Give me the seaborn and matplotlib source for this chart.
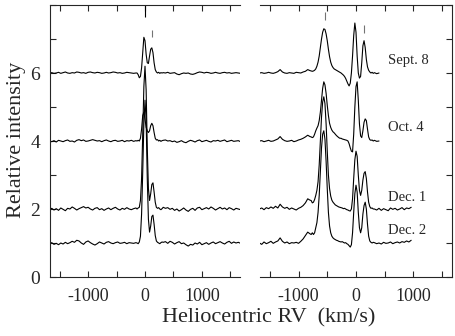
import numpy as np
import pandas as pd
import matplotlib
matplotlib.use("Agg")
import matplotlib.pyplot as plt
import seaborn as sns

sns.set_style("ticks")
plt.rcParams["font.family"] = ["Liberation Serif", "DejaVu Serif"]
plt.rcParams["axes.unicode_minus"] = False

dates = ["Sept. 8", "Oct. 4", "Dec. 1", "Dec. 2"]
offsets = [6, 4, 2, 1]

# velocity sampling (km/s): coarse in the wings, finer around the lines
vel_left = np.concatenate([np.arange(-1680, -159, 40), np.arange(-140, 301, 20),
                           np.arange(320, 1681, 40)])
vel_right_short = np.concatenate([np.arange(-1680, -799, 40), np.arange(-780, 301, 20),
                                  np.arange(320, 401, 40)])
vel_right_long = np.concatenate([np.arange(-1680, -799, 40), np.arange(-780, 301, 20),
                                 np.arange(320, 961, 40)])

# ---- left panel, intensity above continuum ----
left_sept8 = (
    [0.0, 0.01, -0.01, 0.0, 0.02, -0.01, 0.01, 0.03, 0.0, -0.01,
     0.01, 0.0, 0.03, 0.02, 0.0, 0.01, -0.01, 0.02, 0.03, 0.01,
     0.0, 0.02, 0.01, -0.01, 0.0, 0.02, 0.0, 0.01, 0.03, 0.02,
     0.0, 0.01, -0.01, 0.0, 0.02, 0.01, 0.0, -0.01, 0.0]
    + [0.0, -0.05, -0.14, -0.10, 0.15, 0.6, 1.05, 0.95, 0.55, 0.3,
       0.28, 0.5, 0.7, 0.74, 0.6, 0.3, 0.1, 0.03, 0.0, 0.02,
       -0.01, 0.01, 0.0]
    + [0.01, 0.0, 0.02, -0.01, 0.0, 0.01, -0.03, -0.05, -0.02, 0.0,
       -0.01, 0.0, -0.03, -0.04, -0.02, 0.01, 0.03, 0.02, 0.0, 0.02,
       0.01, -0.01, 0.0, 0.02, 0.0, -0.01, 0.01, 0.02, 0.0, 0.01,
       -0.01, 0.0, 0.01, 0.0, -0.01]
)
left_oct4 = (
    [0.0, -0.02, 0.01, -0.03, 0.02, 0.0, -0.02, 0.01, 0.03, -0.01,
     0.0, -0.03, 0.02, 0.04, 0.01, 0.03, -0.01, 0.0, 0.02, 0.04,
     0.02, 0.0, 0.01, -0.02, 0.01, 0.03, 0.0, -0.02, 0.01, 0.02,
     -0.01, 0.0, 0.02, -0.02, 0.01, 0.0, 0.02, -0.01, 0.01]
    + [0.0, 0.02, 0.0, 0.08, 0.35, 0.75, 0.85, 0.65, 0.4, 0.3,
       0.25, 0.3, 0.45, 0.52, 0.45, 0.25, 0.08, 0.03, 0.04, 0.0,
       0.02, -0.01, 0.01]
    + [0.02, 0.03, 0.0, 0.01, -0.02, 0.0, -0.04, -0.02, 0.01, -0.03,
       -0.05, -0.01, 0.02, 0.0, -0.03, 0.01, 0.03, -0.02, 0.0, 0.02,
       -0.01, -0.03, 0.01, 0.0, 0.02, -0.01, 0.01, 0.03, -0.02, 0.0,
       0.02, -0.01, 0.0, 0.01, -0.02]
)
left_dec1 = (
    [-0.02, 0.02, -0.03, 0.01, -0.04, 0.03, -0.01, -0.05, 0.02, 0.0,
     0.06, 0.02, -0.03, 0.01, 0.04, 0.07, 0.03, 0.05, 0.0, -0.03,
     0.02, 0.04, -0.02, 0.01, -0.04, 0.0, 0.03, -0.02, 0.02, 0.05,
     0.0, -0.03, 0.02, -0.01, 0.04, 0.0, -0.02, 0.01, 0.03]
    + [0.0, 0.03, 0.05, 0.25, 0.9, 2.2, 3.6, 4.2, 3.5, 1.8,
       0.6, 0.25, 0.45, 0.72, 0.77, 0.5, 0.2, 0.05, 0.02, 0.04,
       0.0, -0.02, 0.01]
    + [0.05, 0.02, 0.04, -0.01, 0.02, -0.04, 0.0, -0.06, -0.02, 0.03,
       -0.03, -0.07, -0.01, 0.02, -0.04, 0.03, 0.05, -0.02, 0.01, 0.04,
       0.0, 0.06, 0.02, -0.03, 0.01, 0.05, 0.0, 0.03, -0.02, 0.04,
       0.01, -0.03, 0.02, 0.0, -0.02]
)
left_dec2 = (
    [-0.02, 0.01, -0.04, -0.01, -0.05, 0.0, -0.03, 0.02, -0.02, 0.01,
     0.05, 0.02, 0.08, 0.06, 0.0, -0.04, 0.03, 0.06, 0.01, -0.03,
     -0.06, -0.02, 0.03, 0.0, -0.03, 0.02, 0.04, 0.0, -0.02, 0.01,
     0.03, -0.01, 0.0, 0.02, -0.02, 0.01, 0.0, -0.01, 0.01]
    + [0.0, -0.02, 0.03, 0.2, 0.85, 2.1, 3.5, 4.2, 3.6, 1.9,
       0.7, 0.32, 0.5, 0.78, 0.82, 0.55, 0.22, 0.06, 0.02, 0.0,
       -0.02, 0.01, 0.03]
    + [0.02, 0.04, -0.01, 0.05, 0.02, -0.03, 0.01, 0.04, -0.02, 0.0,
       -0.05, -0.09, -0.04, -0.06, 0.0, -0.03, 0.02, -0.05, -0.02, 0.01,
       -0.04, 0.0, 0.03, -0.02, 0.01, 0.04, 0.0, -0.03, 0.02, 0.05,
       -0.01, 0.03, 0.0, 0.02, -0.01]
)

# ---- right panel ----
right_sept8 = (
    [0.0, 0.01, -0.01, 0.0, 0.02, 0.0, -0.01, 0.01, 0.04, 0.1,
     0.03, 0.0, -0.01, 0.01, 0.0, -0.01, 0.02, 0.01, 0.0, 0.03,
     0.05, 0.1, 0.07]
    + [0.06, 0.05, 0.06, 0.08, 0.12, 0.2, 0.32, 0.5, 0.75, 1.0,
       1.2, 1.3, 1.28, 1.15, 0.95, 0.7, 0.48, 0.32, 0.22, 0.16,
       0.12, 0.1, 0.08, 0.06, 0.04, 0.02, 0.0, -0.03, -0.06, -0.1,
       -0.16, -0.24, -0.32, -0.38, -0.3, 0.0, 0.5, 1.1, 1.47, 1.2,
       0.5, 0.0, -0.15, -0.1, 0.3, 0.8, 0.95, 0.75, 0.4, 0.18,
       0.08, 0.03, 0.0, 0.02, -0.01]
    + [0.01, -0.02, 0.0]
)
right_oct4 = (
    [0.0, 0.01, -0.02, 0.0, 0.02, -0.01, 0.0, 0.03, 0.06, 0.13,
     0.05, 0.01, -0.01, 0.0, 0.02, -0.02, 0.0, 0.03, 0.05, 0.08,
     0.12, 0.17, 0.13]
    + [0.12, 0.1, 0.12, 0.2, 0.3, 0.38, 0.45, 0.6, 0.85, 1.2,
       1.55, 1.74, 1.65, 1.4, 1.05, 0.75, 0.52, 0.4, 0.32, 0.27,
       0.24, 0.2, 0.16, 0.13, 0.1, 0.08, 0.08, 0.06, 0.05, 0.04,
       0.03, 0.02, 0.0, -0.08, -0.2, -0.3, -0.32, 0.2, 1.0, 1.6,
       1.74, 1.2, 0.5, 0.15, 0.1, 0.3, 0.55, 0.65, 0.6, 0.35,
       0.12, 0.04, 0.02, 0.03, 0.0]
    + [0.02, -0.01, 0.0]
)
right_dec1 = (
    [0.0, 0.03, -0.02, 0.04, 0.01, 0.06, 0.02, 0.08, 0.03, 0.14,
     0.06, 0.02, 0.05, -0.01, 0.03, 0.0, -0.03, 0.02, 0.05, 0.1,
     0.18, 0.3, 0.26]
    + [0.25, 0.18, 0.2, 0.28, 0.4, 0.55, 0.8, 1.3, 2.0, 2.7,
       3.15, 3.3, 3.1, 2.5, 1.7, 1.0, 0.6, 0.38, 0.26, 0.2,
       0.16, 0.12, 0.1, 0.08, 0.06, 0.05, 0.04, 0.03, 0.01, 0.02,
       0.0, -0.02, -0.03, -0.05, -0.06, 0.0, 0.3, 0.9, 1.45, 1.7,
       1.55, 1.0, 0.55, 0.4, 0.55, 0.85, 1.05, 1.1, 0.9, 0.5,
       0.2, 0.07, 0.02, 0.03, 0.0]
    + [0.0, -0.03, 0.02, -0.04, 0.01, -0.02, -0.05, 0.03, -0.01, 0.02,
       -0.03, 0.0, 0.04, -0.02, 0.03, 0.01, 0.05]
)
right_dec2 = (
    [0.0, -0.04, 0.03, -0.02, 0.01, 0.05, -0.01, 0.03, 0.06, 0.15,
     0.05, 0.0, 0.03, -0.02, 0.01, 0.0, 0.02, -0.01, 0.05, 0.12,
     0.22, 0.32, 0.27]
    + [0.25, 0.3, 0.25, 0.3, 0.45, 0.6, 0.9, 1.4, 2.1, 2.8,
       3.2, 3.3, 3.05, 2.4, 1.6, 0.9, 0.5, 0.3, 0.2, 0.15,
       0.12, 0.1, 0.08, 0.07, 0.05, 0.04, 0.03, 0.04, 0.02, 0.0,
       0.01, -0.02, -0.04, -0.08, -0.12, -0.05, 0.3, 0.9, 1.45, 1.7,
       1.5, 0.9, 0.45, 0.3, 0.45, 0.85, 1.1, 1.2, 1.0, 0.55,
       0.2, 0.06, 0.02, 0.0, 0.02]
    + [0.01, -0.02, 0.0, -0.03, 0.02, -0.01, 0.0, 0.03, -0.02, 0.01,
       0.03, 0.0, 0.04, 0.02, 0.06, 0.03, 0.08]
)

# short markers above the line positions: (velocity, y bottom, y top, colour)
marks_left = [(0, 7.65, 8.0, "black"), (130, 7.06, 7.26, "0.45")]
marks_right = [(-545, 7.56, 7.8, "0.45"), (140, 7.18, 7.41, "0.45")]

label_x = 550
label_y = [6.38, 4.41, 2.35, 1.38]

rows = []
for panel, vels, specs in [
    ("left", [vel_left] * 4, [left_sept8, left_oct4, left_dec1, left_dec2]),
    ("right", [vel_right_short, vel_right_short, vel_right_long, vel_right_long],
     [right_sept8, right_oct4, right_dec1, right_dec2]),
]:
    for d, off, v, s in zip(dates, offsets, vels, specs):
        assert len(v) == len(s), (panel, d, len(v), len(s))
        rows.append(pd.DataFrame({"panel": panel, "date": d, "vel": v,
                                  "intensity": np.array(s) + off}))
df = pd.concat(rows, ignore_index=True)

fig = plt.figure(figsize=(4.55, 3.36), dpi=100)
ax1 = fig.add_axes([50 / 455, 59 / 336, 190 / 455, 272 / 336])
ax2 = fig.add_axes([260 / 455, 59 / 336, 192 / 455, 272 / 336])

for ax, panel, marks in [(ax1, "left", marks_left), (ax2, "right", marks_right)]:
    sns.lineplot(data=df[df.panel == panel], x="vel", y="intensity", units="date",
                 estimator=None, color="black", lw=0.8, ax=ax, legend=False)
    for v, y0, y1, c in marks:
        ax.vlines(v, y0, y1, color=c, lw=0.8)
    ax.set_xlim(-1670, 1670)
    ax.set_ylim(0, 8)
    ax.set_xticks([-1500, -1000, -500, 0, 500, 1000, 1500])
    ax.set_xticklabels(["", "-1000", "", "0", "", "1000", ""], fontsize=13)
    ax.set_yticks(range(9))
    ax.set_xlabel("")
    ax.set_ylabel("")
    ax.tick_params(axis="x", direction="in", top=True, length=4, width=0.8, pad=8)
    for sp in ax.spines.values():
        sp.set_linewidth(0.8)

ax1.spines["right"].set_visible(False)
ax1.set_yticklabels(["0", "", "2", "", "4", "", "6", "", ""], fontsize=14)
ax1.tick_params(axis="y", direction="in", left=True, right=False, length=4, width=0.8, pad=7)

ax2.spines["left"].set_visible(False)
ax2.tick_params(axis="y", direction="in", left=False, right=True, labelleft=False,
                length=4, width=0.8)

for d, y in zip(dates, label_y):
    ax2.text(label_x, y, d, va="center", ha="left", fontsize=10.5)

fig.text(269 / 455, 1 - 318 / 336, "Heliocentric RV  (km/s)", ha="center", va="center",
         fontsize=16)
fig.text(17 / 455, 1 - 140 / 336, "Relative intensity", ha="center", va="center",
         rotation=90, fontsize=16)

fig.savefig("out.png", dpi=100)
